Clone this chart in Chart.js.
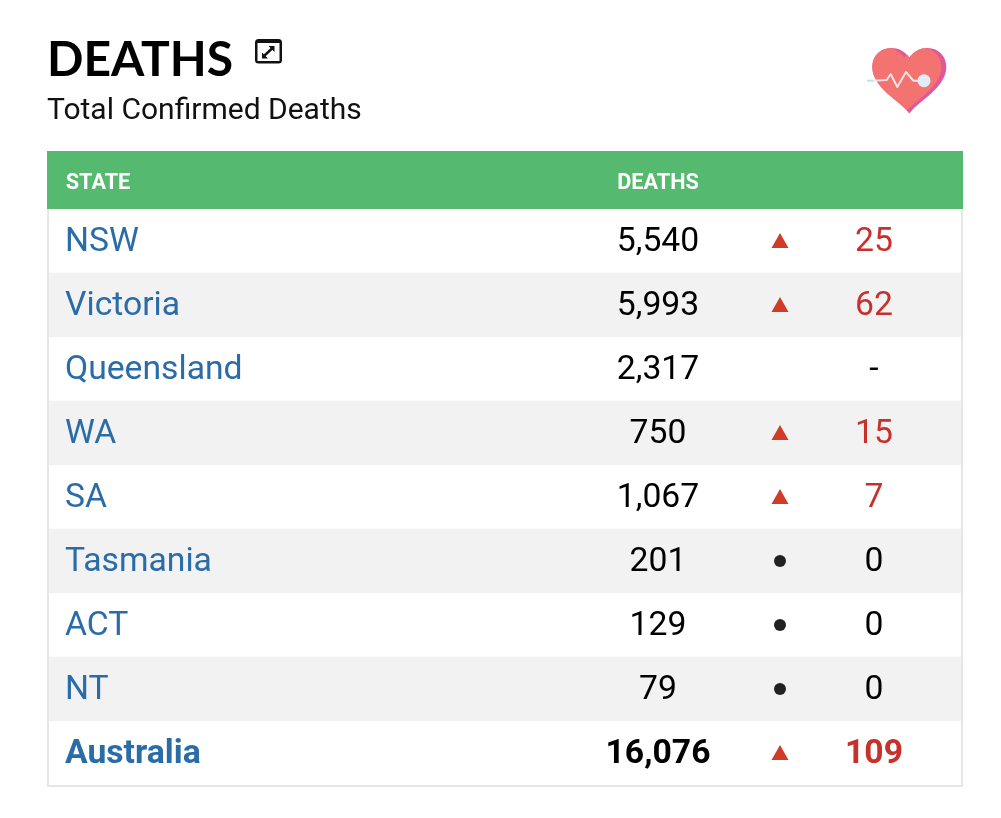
<!DOCTYPE html>
<html><head><meta charset="utf-8">
<style>html,body{margin:0;padding:0;background:#fff}canvas{display:block}</style>
<script src="https://cdn.jsdelivr.net/npm/chart.js@4"></script>
</head><body><canvas id="c" width="1001" height="818"></canvas>
<script>
const states = ["NSW","Victoria","Queensland","WA","SA","Tasmania","ACT","NT","Australia"];
const deaths = [5540,5993,2317,750,1067,201,129,79,16076];
const changes = [25,62,null,15,7,0,0,0,109];
const headers = ["STATE","DEATHS"];

const COL_STATE=51, COL_DEATHS=611, COL_TREND=733, COL_CHANGE=827, X_MAX=916;
const RED='#c8302b', BLUE='#2a6ca8', TRI='#d13b29', TEXT='#000';
const FONT='Roboto';

const tri=document.createElement('canvas');tri.width=24;tri.height=24;
(function(){const g=tri.getContext('2d');g.fillStyle=TRI;g.beginPath();g.moveTo(12,4);g.lineTo(20.5,19);g.lineTo(3.5,19);g.closePath();g.fill();})();

function marker(v){return v===null?false:(v>0?tri:'circle');}
function fmt(v){return v.toLocaleString('en-US');}

function heart(g,dx){
  const cx=909.3+dx;
  g.beginPath();
  g.moveTo(cx,57.5);
  g.bezierCurveTo(cx-5,51,cx-11,48,cx-18,48);
  g.bezierCurveTo(cx-30,48,cx-37,57,cx-37,67);
  g.bezierCurveTo(cx-37,79,cx-28,88,cx-19,96);
  g.bezierCurveTo(cx-12,102,cx-5,107,cx,113.5);
  g.bezierCurveTo(cx+5,107,cx+12,102,cx+19,96);
  g.bezierCurveTo(cx+28,88,cx+37,79,cx+37,67);
  g.bezierCurveTo(cx+37,57,cx+30,48,cx+18,48);
  g.bezierCurveTo(cx+11,48,cx+5,51,cx,57.5);
  g.closePath();
}

const tablePlugin={
  id:'table',
  beforeDraw(chart){
    const g=chart.ctx,a=chart.chartArea;
    g.save();g.fillStyle='#fff';g.fillRect(0,0,chart.width,chart.height);
    g.fillStyle='#55b96f';g.fillRect(a.left,a.top-58,a.right-a.left,58);
    g.restore();
  },
  afterDatasetsDraw(chart){
    const g=chart.ctx,a=chart.chartArea,x=chart.scales.x,y=chart.scales.y;
    g.save();
    g.fillStyle='#e6e6e6';
    g.fillRect(a.left,a.top,2,a.bottom-a.top+2);
    g.fillRect(a.right-2,a.top,2,a.bottom-a.top+2);
    g.fillRect(a.left,a.bottom,a.right-a.left,2);
    g.textAlign='center';g.textBaseline='alphabetic';
    states.forEach((s,i)=>{
      const py=y.getPixelForValue(i)+9.5;
      const last=i===states.length-1;
      const w=last?'700':'400';
      g.font=w+' 33.7px '+FONT;
      g.fillStyle=TEXT;
      g.fillText(fmt(deaths[i]),x.getPixelForValue(COL_DEATHS),py);
      const c=changes[i];
      g.fillStyle=c>0?RED:TEXT;
      g.fillText(c===null?'-':String(c),x.getPixelForValue(COL_CHANGE),py);
    });
    // expand icon
    g.fillStyle='#111';g.beginPath();g.roundRect(255,39,27,24.5,3.5);g.fill();
    g.fillStyle='#fff';g.fillRect(257.5,43,22,18);
    g.strokeStyle='#111';g.lineWidth=2.4;g.beginPath();g.moveTo(264.5,55.5);g.lineTo(272,48.5);g.stroke();
    g.fillStyle='#111';
    g.beginPath();g.moveTo(262,58.5);g.lineTo(262,52.5);g.lineTo(268,58.5);g.closePath();g.fill();
    g.beginPath();g.moveTo(274.5,46);g.lineTo(274.5,52);g.lineTo(268.5,46);g.closePath();g.fill();
    // heart icon
    g.fillStyle='#e2579a';heart(g,0);g.fill();
    g.save();heart(g,0);g.clip();
    g.fillStyle='#f2736f';heart(g,-5);g.fill();
    g.restore();
    g.strokeStyle='#f6e3e3';g.lineWidth=2;g.lineJoin='round';
    g.beginPath();g.moveTo(872,80.7);g.lineTo(886.7,80);g.lineTo(890.7,74);g.lineTo(897.3,87);g.lineTo(906,72);g.lineTo(913.3,80.7);g.lineTo(919,80.7);g.stroke();
    g.strokeStyle='#bfe4ea';g.beginPath();g.moveTo(867,80.7);g.lineTo(873,80.7);g.stroke();
    g.fillStyle='#dfeef5';g.beginPath();g.arc(924,80.7,6.5,0,Math.PI*2);g.fill();
    g.restore();
  }
};

new Chart(document.getElementById('c'),{
  data:{
    labels:states,
    datasets:[
      {type:'bar',label:'Rows',indexAxis:'y',order:2,
       data:states.map((_,i)=>i%2?X_MAX:null),
       backgroundColor:'#f2f2f2',barPercentage:1,categoryPercentage:1,borderWidth:0},
      {type:'scatter',label:'Trend',order:1,
       data:states.map((s,i)=>({x:COL_TREND,y:s})),
       pointStyle:c=>marker(changes[c.dataIndex]),
       pointRadius:c=>changes[c.dataIndex]===null?0:6,
       pointBackgroundColor:'#222',pointBorderWidth:0,showLine:false}
    ]
  },
  plugins:[tablePlugin],
  options:{
    responsive:false,animation:false,indexAxis:'y',
    events:[],
    layout:{padding:{left:47,right:38,top:37,bottom:33}},
    plugins:{
      legend:{display:false},tooltip:{enabled:false},
      title:{display:true,text:'DEATHS',align:'start',color:'#000',
        font:{family:'Lato',size:48,weight:'700',lineHeight:1},padding:{top:0,bottom:0}},
      subtitle:{display:true,text:'Total Confirmed Deaths',align:'start',color:'#111',
        font:{family:FONT,size:30,weight:'400',lineHeight:1},padding:{top:11,bottom:25}}
    },
    scales:{
      x:{type:'linear',position:'top',min:0,max:X_MAX,
        grid:{display:false},border:{display:false},
        afterFit(s){s.height=58;s.paddingLeft=0;s.paddingRight=0;},
        afterBuildTicks(s){s.ticks=[{value:COL_STATE},{value:COL_DEATHS}];},
        ticks:{color:'#fff',autoSkip:false,maxRotation:0,padding:4,
          font:{family:FONT,size:21.7,weight:'700'},
          callback:(v,i)=>headers[i]}},
      y:{type:'category',position:'left',offset:true,
        grid:{display:false},border:{display:false},
        afterFit(s){s.width=0;s.paddingTop=0;s.paddingBottom=0;},
        ticks:{mirror:true,padding:18,z:1,autoSkip:false,labelOffset:2,
          color:BLUE,
          font:c=>({family:FONT,size:33.7,weight:c.index===states.length-1?'700':'400'})}}
    }
  }
});
</script></body></html>
